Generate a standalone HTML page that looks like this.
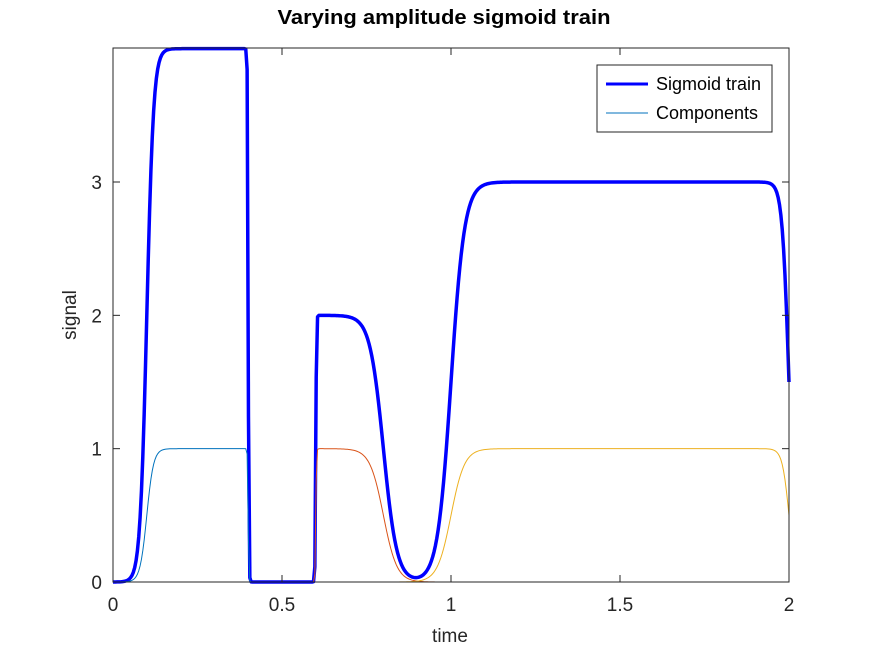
<!DOCTYPE html>
<html><head><meta charset="utf-8"><style>
body{margin:0;background:#fff;}
svg{display:block;font-family:"Liberation Sans",Arial,sans-serif;}
</style></head><body>
<svg id="chart" width="872" height="654" viewBox="0 0 872 654">
<rect x="0" y="0" width="872" height="654" fill="#fff"/>
<text x="444" y="24" text-anchor="middle" font-size="20" font-weight="bold" fill="#000" textLength="333" lengthAdjust="spacingAndGlyphs">Varying amplitude sigmoid train</text>
<g id="plot"></g>
<g id="axes"></g>
<text x="450" y="642" text-anchor="middle" font-size="19" fill="#262626">time</text>
<text transform="translate(76,315) rotate(-90)" text-anchor="middle" font-size="19" fill="#262626">signal</text>
<g>
<rect x="597" y="65" width="175" height="67" fill="#fff" stroke="#262626" stroke-width="1"/>
<line x1="606" y1="84" x2="648" y2="84" stroke="#0000ff" stroke-width="3"/>
<text x="656" y="90" font-size="18" fill="#000">Sigmoid train</text>
<line x1="606" y1="113" x2="648" y2="113" stroke="#0072bd" stroke-width="1"/>
<text x="656" y="119" font-size="18" fill="#000">Components</text>
</g>
</svg>
<script>
const rangeStart = [0.1, 0.6, 1.0];
const rangeEnd = [0.4, 0.8, 2.0];
const rcUp = [0.01, 0.001, 0.02];
const rcDown = [0.001, 0.02, 0.01];
const amplitudes = [4, 2, 3];
const xTicks = [0, 0.5, 1, 1.5, 2];
const xTickLabels = ["0", "0.5", "1", "1.5", "2"];
const yTicks = [0, 1, 2, 3];
const yTickLabels = ["0", "1", "2", "3"];
const nSamples = 500;

const X0 = 113, X1 = 789, Y0 = 582, Y1 = 48;
const xMin = 0, xMax = 2, yMin = 0, yMax = 4.005;
const sx = v => X0 + (v - xMin) / (xMax - xMin) * (X1 - X0);
const sy = v => Y0 - (v - yMin) / (yMax - yMin) * (Y0 - Y1);
const NS = "http://www.w3.org/2000/svg";
const plot = document.getElementById("plot");
const axes = document.getElementById("axes");
const compColors = ["#0072bd", "#d95319", "#edb120"];

const t = [];
for (let i = 0; i < nSamples; i++) t.push(xMin + (xMax - xMin) * i / (nSamples - 1));
const comps = rangeStart.map((a, k) => t.map(tt => {
  const up = 1 / (1 + Math.exp(-(tt - a) / rcUp[k]));
  const dn = 1 - 1 / (1 + Math.exp(-(tt - rangeEnd[k]) / rcDown[k]));
  return up * dn;
}));
const total = t.map((_, i) => comps.reduce((s, c, k) => s + amplitudes[k] * c[i], 0));

function pathOf(vals) {
  return vals.map((v, i) => (i ? "L" : "M") + sx(t[i]).toFixed(2) + "," + sy(v).toFixed(2)).join("");
}
const tp = document.createElementNS(NS, "path");
tp.setAttribute("d", pathOf(total));
tp.setAttribute("fill", "none");
tp.setAttribute("stroke", "#0000ff");
tp.setAttribute("stroke-width", "3.5");
tp.setAttribute("stroke-linejoin", "round");


plot.appendChild(tp);
comps.forEach((c, k) => {
  const p = document.createElementNS(NS, "path");
  p.setAttribute("d", pathOf(c));
  p.setAttribute("fill", "none");
  p.setAttribute("stroke", compColors[k]);
  p.setAttribute("stroke-width", "1");
  
  
  plot.appendChild(p);
});

const box = document.createElementNS(NS, "rect");
box.setAttribute("x", X0); box.setAttribute("y", Y1);
box.setAttribute("width", X1 - X0); box.setAttribute("height", Y0 - Y1);
box.setAttribute("fill", "none"); box.setAttribute("stroke", "#262626");


axes.appendChild(box);

function line(x1, y1, x2, y2, name) {
  const l = document.createElementNS(NS, "line");
  l.setAttribute("x1", x1); l.setAttribute("y1", y1);
  l.setAttribute("x2", x2); l.setAttribute("y2", y2);
  l.setAttribute("stroke", "#262626");
  
  
  axes.appendChild(l);
}
function label(x, y, s, anchor, name) {
  const e = document.createElementNS(NS, "text");
  e.setAttribute("x", x); e.setAttribute("y", y);
  e.setAttribute("text-anchor", anchor);
  e.setAttribute("font-size", "19");
  e.setAttribute("fill", "#262626");
  e.textContent = s;
  
  
  axes.appendChild(e);
}
xTicks.forEach((v, i) => {
  const x = sx(v);
  line(x, Y0, x, Y0 - 7, 'x-tick');
  line(x, Y1, x, Y1 + 7, 'x-tick-top');
  label(x, 611, xTickLabels[i], "middle", 'x-tick-label');
});
yTicks.forEach((v, i) => {
  const y = sy(v);
  line(X0, y, X0 + 7, y, 'y-tick');
  line(X1, y, X1 - 7, y, 'y-tick-right');
  label(X0 - 11, y + 7, yTickLabels[i], "end", 'y-tick-label');
});
</script>
</body></html>
